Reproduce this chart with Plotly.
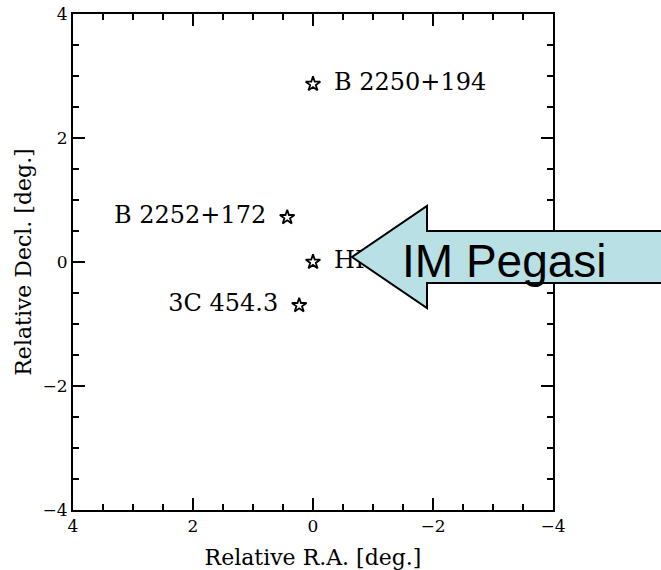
import plotly.graph_objects as go

# Data
names = ["B 2250+194", "B 2252+172", "HR 8703", "3C 454.3"]
ra = [0.0, 0.43, 0.0, 0.23]
dec = [2.87, 0.72, 0.0, -0.70]
label_pos = ["middle right", "middle left", "middle right", "middle left"]
ticks = [4, 2, 0, -2, -4]

W, H = 661, 570
L, R, T, B = 73, 553, 14, 510

def px(x):
    return (x - L) / (R - L)

def py(y):
    return (B - y) / (B - T)

serif = "DejaVu Serif, Liberation Serif, serif"

fig = go.Figure()
# labels (drawn in the plot layer so that the callout covers them)
fig.add_trace(go.Scatter(
    x=ra, y=dec, mode="markers+text", text=names, textposition=label_pos,
    textfont=dict(family=serif, size=24, color="black"),
    marker=dict(size=32, color="rgba(0,0,0,0)"),
    showlegend=False, hoverinfo="skip", cliponaxis=False))
fig.add_trace(go.Scatter(
    x=ra, y=dec, mode="markers",
    marker=dict(symbol="star-open", size=11, color="black", line=dict(width=1.8, color="black")),
    showlegend=False, hoverinfo="skip"))

# Callout arrow
pts = [(352, 257), (427, 206), (427, 231), (670, 231), (670, 283), (427, 283), (427, 308)]
path = "M " + " L ".join(f"{px(a):.5f},{py(b):.5f}" for a, b in pts) + " Z"
fig.add_shape(type="path", xref="paper", yref="paper", path=path,
              fillcolor="#b9e0e5", line=dict(color="black", width=2), layer="above")
fig.add_annotation(xref="paper", yref="paper", x=px(400), y=py(261), text="IM Pegasi",
                   showarrow=False, xanchor="left", yanchor="middle",
                   font=dict(family="Liberation Sans, Arial, sans-serif", size=46, color="black"))

axis_common = dict(
    showgrid=False, zeroline=False, showline=True, linecolor="black", linewidth=2,
    mirror="ticks", ticks="inside", ticklen=12, tickwidth=1.5, tickcolor="black",
    tickvals=ticks, ticktext=[("\u2212" + str(-t)) if t < 0 else str(t) for t in ticks],
    tickfont=dict(family=serif, size=17, color="black"), automargin=False,
    minor=dict(ticks="inside", ticklen=6, tickwidth=1.5, tickcolor="black", dtick=0.5, showgrid=False),
)
fig.update_xaxes(range=[4, -4], title=dict(text="Relative R.A. [deg.]", standoff=17,
                 font=dict(family=serif, size=22, color="black")), **axis_common)
fig.update_yaxes(range=[-4, 4], title=dict(text="Relative Decl. [deg.]", standoff=5,
                 font=dict(family=serif, size=22, color="black")), **axis_common)

fig.update_layout(width=W, height=H, margin=dict(l=L, r=W - R, t=T, b=H - B),
                  plot_bgcolor="white", paper_bgcolor="white")
fig.write_html("out.html")
